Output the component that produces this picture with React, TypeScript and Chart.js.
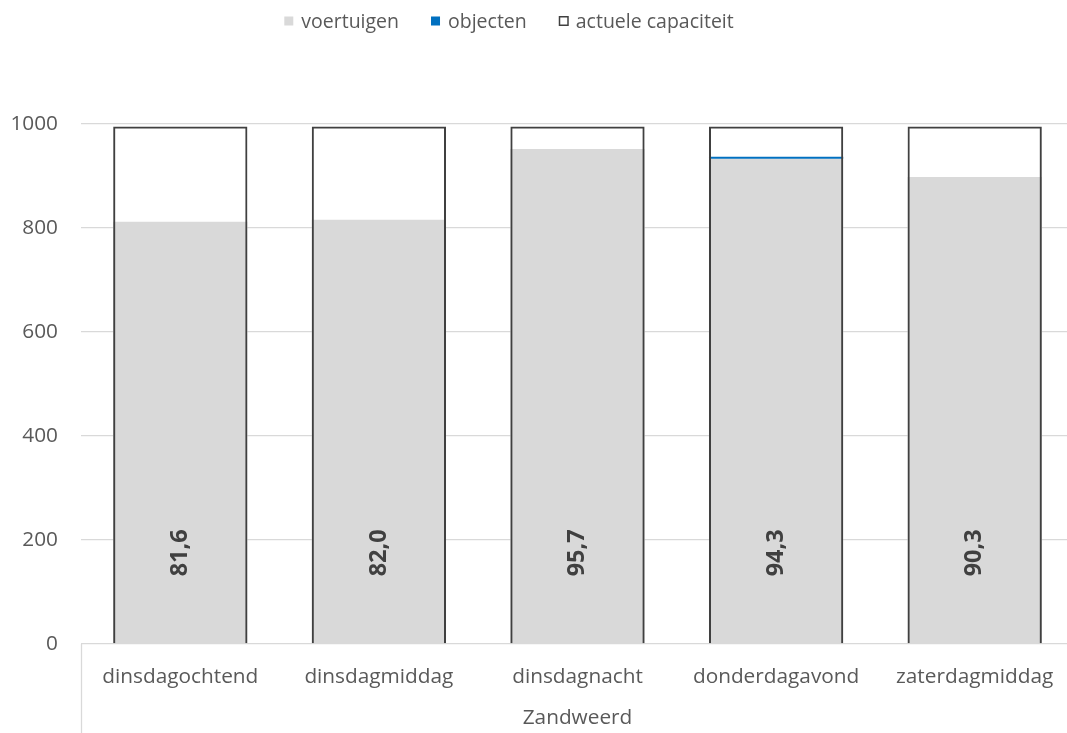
import { useEffect, useRef } from "react";
import { Chart, registerables } from "chart.js";

Chart.register(...registerables);

const categories = ["dinsdagochtend", "dinsdagmiddag", "dinsdagnacht", "donderdagavond", "zaterdagmiddag"];
const groupLabel = "Zandweerd";
const voertuigen = [812, 816, 952, 933, 898];
const objecten = [0, 0, 0, 4, 0];
const capaciteit = [995, 995, 995, 995, 995];
const percentLabels = ["81,6", "82,0", "95,7", "94,3", "90,3"];
const yTicks = [0, 200, 400, 600, 800, 1000];
const seriesNames = ["voertuigen", "objecten", "actuele capaciteit"];

const FONT = "'Open Sans', sans-serif";
const TEXT = "#595959";
const GRID = "#d9d9d9";

export default function App() {
  const ref = useRef<HTMLCanvasElement | null>(null);

  useEffect(() => {
    if (!ref.current) return;
    Chart.defaults.font.family = FONT;

    const legendPlugin = {
      id: "customLegend",
      afterDraw(chart: any) {
        const ctx = chart.ctx;
        ctx.save();
        ctx.font = `19.5px ${FONT}`;
        ctx.textBaseline = "middle";
        ctx.textAlign = "left";
        const box = 9;
        const gapBT = 8;
        const gapItems = 32;
        const ds = chart.data.datasets;
        const widths = ds.map((d: any) => box + gapBT + ctx.measureText(d.label).width);
        const total = widths.reduce((a: number, b: number) => a + b, 0) + gapItems * (ds.length - 1);
        let x = 509 - total / 2;
        const y = 21;
        ds.forEach((d: any, i: number) => {
          if (d.legendOutline) {
            ctx.fillStyle = "#ffffff";
            ctx.fillRect(x, y - 5, 10, 10);
            ctx.strokeStyle = "#404040";
            ctx.lineWidth = 1.5;
            ctx.strokeRect(x + 0.75, y - 4.25, 8.5, 8.5);
          } else {
            ctx.fillStyle = d.backgroundColor;
            ctx.fillRect(x, y - 4.5, box, box);
          }
          ctx.fillStyle = TEXT;
          ctx.fillText(d.label, x + box + gapBT, y + 1);
          x += widths[i] + gapItems;
        });
        ctx.restore();
      },
    };

    const labelsPlugin = {
      id: "barLabels",
      afterDatasetsDraw(chart: any) {
        const ctx = chart.ctx;
        const meta = chart.getDatasetMeta(0);
        ctx.save();
        ctx.font = `bold 23.5px ${FONT}`;
        ctx.fillStyle = "#404040";
        ctx.textAlign = "left";
        ctx.textBaseline = "middle";
        meta.data.forEach((bar: any, i: number) => {
          ctx.save();
          ctx.translate(bar.x, bar.base - 67);
          ctx.rotate(-Math.PI / 2);
          ctx.fillText(percentLabels[i], 0, 0);
          ctx.restore();
        });
        ctx.restore();
      },
    };

    const separatorPlugin = {
      id: "separator",
      afterDraw(chart: any) {
        const ctx = chart.ctx;
        const a = chart.chartArea;
        ctx.save();
        ctx.strokeStyle = GRID;
        ctx.lineWidth = 1.3;
        ctx.beginPath();
        ctx.moveTo(a.left + 0.5, a.bottom);
        ctx.lineTo(a.left + 0.5, chart.height);
        ctx.stroke();
        ctx.restore();
      },
    };

    const chart = new Chart(ref.current, {
      type: "bar",
      data: {
        labels: categories,
        datasets: [
          {
            label: seriesNames[0],
            data: voertuigen,
            backgroundColor: "#d9d9d9",
            borderWidth: 0,
            order: 2,
          },
          {
            label: seriesNames[1],
            data: voertuigen.map((v, i) => (objecten[i] ? [v, v + objecten[i]] : null)) as any,
            backgroundColor: "#0070c0",
            borderWidth: 0,
            order: 1,
          },
          {
            label: seriesNames[2],
            data: capaciteit,
            backgroundColor: "rgba(255,255,255,0)",
            borderColor: "#404040",
            borderWidth: 2,
            order: 0,
            legendOutline: true,
          } as any,
        ],
      },
      options: {
        responsive: false,
        animation: false,
        layout: { padding: { top: 124, right: 26, left: 0, bottom: 0 } },
        datasets: { bar: { barPercentage: 0.676, categoryPercentage: 1 } },
        plugins: {
          legend: { display: false },
          tooltip: { enabled: false },
          title: { display: false },
        },
        scales: {
          x: {
            stacked: true,
            grid: { display: false, drawTicks: false },
            border: { display: false },
            ticks: { color: TEXT, font: { size: 20.8, family: FONT }, padding: 21, maxRotation: 0, autoSkip: false },
            title: {
              display: true,
              text: groupLabel,
              color: TEXT,
              font: { size: 20.8, family: FONT },
              padding: { top: 0, bottom: 2 },
            },
            afterFit(scale: any) {
              scale.height = 89;
            },
          },
          y: {
            stacked: false,
            min: 0,
            max: 1000,
            grid: { color: GRID, lineWidth: 1.3, drawTicks: false },
            border: { display: false },
            ticks: {
              color: TEXT,
              font: { size: 20.8, family: FONT },
              padding: 23,
              stepSize: 200,
              callback: (v: any) => String(v),
            },
            afterBuildTicks(scale: any) {
              scale.ticks = yTicks.map((v) => ({ value: v }));
            },
            afterFit(scale: any) {
              scale.width = 81;
            },
          },
        },
      },
      plugins: [legendPlugin, labelsPlugin, separatorPlugin],
    });

    return () => chart.destroy();
  }, []);

  return (
    <div style={{ position: "fixed", left: 0, top: 0, width: 1067, height: 733, overflow: "hidden", background: "#fff" }}>
      <canvas ref={ref} width={1100} height={733} style={{ display: "block" }} />
    </div>
  );
}
